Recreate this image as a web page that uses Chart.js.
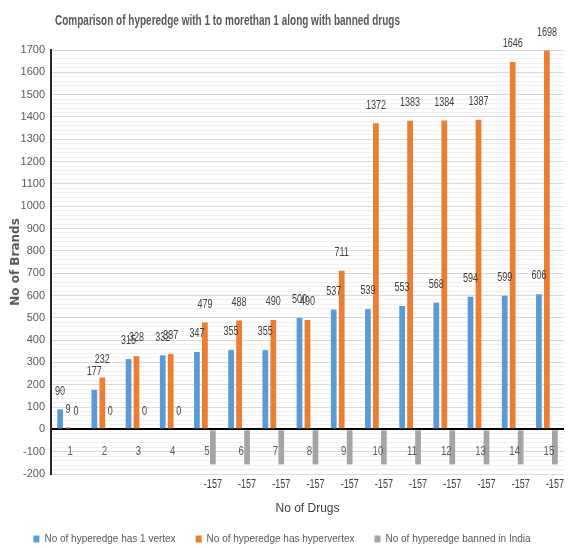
<!DOCTYPE html>
<html>
<head>
<meta charset="utf-8">
<script src="https://cdn.jsdelivr.net/npm/chart.js@4.4.0/dist/chart.umd.min.js"></script>
<style>
    html, body { margin: 0; padding: 0; background: #fff; }
</style>
</head>
<body>
<canvas id="graficoHiperarestas" width="571" height="548"></canvas>
<script>
// Dados
const categorias = ['1', '2', '3', '4', '5', '6', '7', '8', '9', '10', '11', '12', '13', '14', '15'];
const umVertice = [90, 177, 315, 332, 347, 355, 355, 500, 537, 539, 553, 568, 594, 599, 606];
const hipervertice = [9, 232, 328, 337, 479, 488, 490, 490, 711, 1372, 1383, 1384, 1387, 1646, 1698];
const banidosIndia = [0, 0, 0, 0, -157, -157, -157, -157, -157, -157, -157, -157, -157, -157, -157];
const rotulosSeries = ['No of hyperedge has 1 vertex', 'No of hyperedge has hypervertex', 'No of hyperedge banned in India'];
const eixoY = { min: -200, max: 1700, passoMenor: 20, passoMaior: 100 };

const titulo = 'Comparison of hyperedge with 1 to morethan 1 along with banned drugs';
const fonte = "'Liberation Sans', Arial, sans-serif";

// escreve o texto "apertado" na horizontal, como no original
function textoEstreito(ctx, t, x, y, fator) {
    ctx.fillText(t, x, y, ctx.measureText(t).width * fator);
}

// Título, rótulos de categoria (dentro da área) e rótulos de dados
const pluginTextos = {
    id: 'textos',
    afterLayout(chart) {
        // legenda um pouco mais perto da borda de baixo
        chart.legend.top += 6;
        chart.legend.bottom += 6;
    },
    afterDatasetsDraw(chart) {
        const ctx = chart.ctx;
        const x = chart.scales.x;
        const y = chart.scales.y;
        const zero = y.getPixelForValue(0);
        ctx.save();

        // título
        ctx.font = 'bold 15px ' + fonte;
        ctx.fillStyle = '#595959';
        ctx.textAlign = 'left';
        ctx.textBaseline = 'middle';
        ctx.fillText(titulo, 55, 21, 345);

        // categorias logo abaixo do zero
        ctx.font = '12px ' + fonte;
        ctx.textAlign = 'center';
        ctx.fillStyle = '#595959';
        categorias.forEach((c, i) => {
            textoEstreito(ctx, c, x.getPixelForValue(i) + 2, zero + 22, 0.8);
        });

        // valores das barras
        ctx.fillStyle = '#404040';
        chart.data.datasets.forEach((ds, d) => {
            const meta = chart.getDatasetMeta(d);
            meta.data.forEach((barra, i) => {
                const v = ds.data[i];
                const py = v >= 0 ? barra.y - 18 : barra.y + 20;
                textoEstreito(ctx, String(v), barra.x, py, 0.75);
            });
        });
        ctx.restore();
    }
};

new Chart(document.getElementById('graficoHiperarestas').getContext('2d'), {
    type: 'bar',
    data: {
        labels: categorias,
        datasets: [
            { label: rotulosSeries[0], data: umVertice, backgroundColor: '#5B9BD5' },
            { label: rotulosSeries[1], data: hipervertice, backgroundColor: '#ED7D31' },
            { label: rotulosSeries[2], data: banidosIndia, backgroundColor: '#A5A5A5' }
        ]
    },
    options: {
        responsive: false,
        devicePixelRatio: 1,
        animation: false,
        datasets: { bar: { categoryPercentage: 0.7, barPercentage: 0.72 } },
        layout: { padding: { top: 50, right: 7, left: 0, bottom: 0 } },
        plugins: {
            legend: {
                position: 'bottom',
                labels: {
                    boxWidth: 6,
                    boxHeight: 7,
                    padding: 20,
                    color: '#595959',
                    font: { family: fonte, size: 10 }
                }
            },
            tooltip: { enabled: false }
        },
        scales: {
            x: {
                ticks: { display: false },
                grid: { display: false },
                border: { display: false },
                title: {
                    display: true,
                    text: 'No of Drugs',
                    color: '#404040',
                    font: { family: fonte, size: 12 },
                    padding: { top: 0, bottom: -8 }
                },
                afterFit: scale => { scale.height = 34; }
            },
            y: {
                min: eixoY.min,
                max: eixoY.max,
                afterFit: scale => { scale.width = 51; },
                border: { color: '#262626', width: 2 },
                ticks: {
                    stepSize: eixoY.passoMenor,
                    autoSkip: false,
                    padding: 6,
                    color: '#595959',
                    font: { family: fonte, size: 11 },
                    callback: v => (v % eixoY.passoMaior === 0 ? v : '')
                },
                grid: {
                    drawTicks: false,
                    color: c => c.tick.value === 0 ? '#000000' : (c.tick.value % eixoY.passoMaior === 0 ? '#d9d9d9' : '#f0f0f0'),
                    lineWidth: c => c.tick.value === 0 ? 2 : 1
                },
                title: {
                    display: true,
                    text: 'No of Brands',
                    color: '#595959',
                    font: { family: "'DejaVu Sans', sans-serif", size: 12, weight: 'bold' },
                    padding: { top: 9, bottom: 0 }
                }
            }
        }
    },
    plugins: [pluginTextos]
});
</script>
</body>
</html>
